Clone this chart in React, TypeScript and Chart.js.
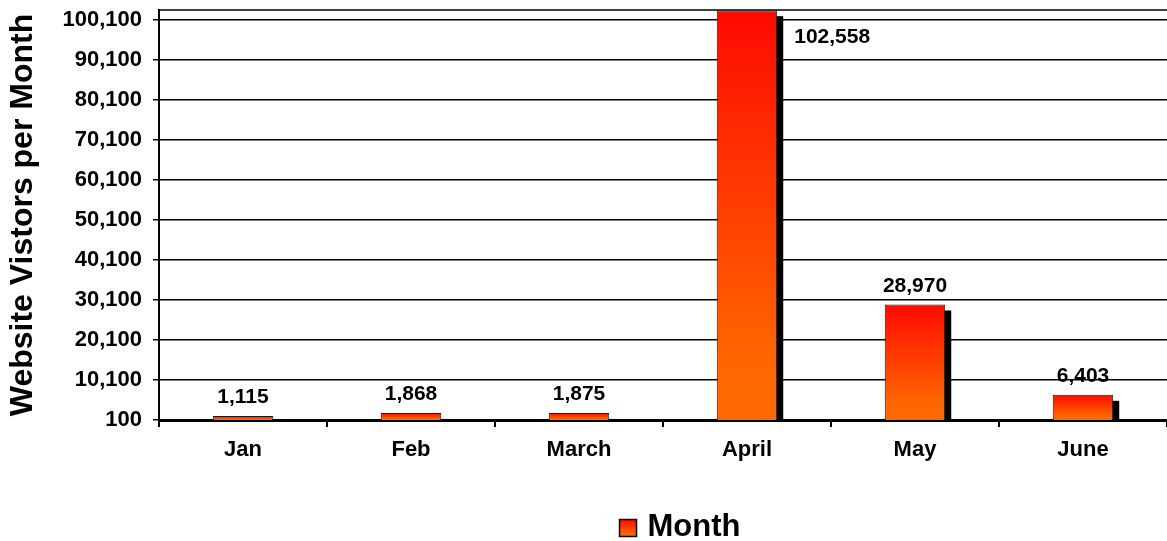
import React, { useEffect, useRef } from 'react';
import { Chart, registerables } from 'chart.js';

Chart.register(...registerables);

const MONTHS = ['Jan', 'Feb', 'March', 'April', 'May', 'June'];
const VISITORS = [1115, 1868, 1875, 102558, 28970, 6403];
const Y_TICKS = [100, 10100, 20100, 30100, 40100, 50100, 60100, 70100, 80100, 90100, 100100];
const Y_MIN = 100;
const Y_MAX = 102600;
const SERIES_LABEL = 'Month';
const Y_TITLE = 'Website Vistors per Month';

const FONT = '"Liberation Sans", Arial, Helvetica, sans-serif';
const fmt = (v: number) => Number(v).toLocaleString('en-US');

function barGradient(ctx: CanvasRenderingContext2D, top: number, bottom: number) {
  const g = ctx.createLinearGradient(0, top, 0, bottom);
  g.addColorStop(0, '#ff0a00');
  g.addColorStop(0.85, '#ff6600');
  g.addColorStop(1, '#ff6a00');
  return g;
}

const shadowPlugin = {
  id: 'barShadow',
  beforeDatasetsDraw(chart: any) {
    const { ctx, chartArea } = chart;
    ctx.save();
    ctx.strokeStyle = '#000';
    ctx.lineWidth = 1.5;
    ctx.beginPath();
    ctx.moveTo(chartArea.left, chartArea.top);
    ctx.lineTo(chartArea.right, chartArea.top);
    ctx.stroke();
    ctx.restore();

    const meta = chart.getDatasetMeta(0);
    ctx.save();
    ctx.beginPath();
    ctx.rect(chartArea.left, chartArea.top, chartArea.right - chartArea.left, chartArea.bottom - chartArea.top);
    ctx.clip();
    ctx.fillStyle = '#000';
    meta.data.forEach((bar: any) => {
      const { x, y, base, width } = bar.getProps(['x', 'y', 'base', 'width'], true);
      ctx.fillRect(x - width / 2 + 6, y + 6, width, base - y);
    });
    ctx.restore();
  },
};

const labelPlugin = {
  id: 'valueLabels',
  afterDatasetsDraw(chart: any) {
    const { ctx, chartArea } = chart;
    const meta = chart.getDatasetMeta(0);
    ctx.save();
    ctx.font = `bold 21px ${FONT}`;
    ctx.fillStyle = '#000';
    ctx.textBaseline = 'alphabetic';
    meta.data.forEach((bar: any, i: number) => {
      const { x, y, width } = bar.getProps(['x', 'y', 'width'], true);
      const text = fmt(VISITORS[i]);
      if (y - 13 - 17 < chartArea.top) {
        ctx.textAlign = 'left';
        ctx.fillText(text, x + width / 2 + 17, y + 33);
      } else {
        ctx.textAlign = 'center';
        ctx.fillText(text, x, y - 13);
      }
    });
    ctx.restore();
  },
};

const legendPlugin = {
  id: 'customLegend',
  afterDraw(chart: any) {
    const { ctx, chartArea } = chart;
    const boxSize = 17;
    const gap = 11;
    ctx.save();
    ctx.font = `bold 31px ${FONT}`;
    const tw = ctx.measureText(SERIES_LABEL).width;
    const total = boxSize + gap + tw;
    const cx = (chartArea.left + chartArea.right) / 2 + 17;
    const x0 = cx - total / 2;
    const cy = chart.height - 13;
    const by = cy - boxSize / 2;
    ctx.fillStyle = barGradient(ctx, by, by + boxSize);
    ctx.fillRect(x0, by, boxSize, boxSize);
    ctx.strokeStyle = '#000';
    ctx.lineWidth = 1.5;
    ctx.strokeRect(x0, by, boxSize, boxSize);
    ctx.fillStyle = '#000';
    ctx.textAlign = 'left';
    ctx.textBaseline = 'middle';
    ctx.fillText(SERIES_LABEL, x0 + boxSize + gap, cy - 1);
    ctx.restore();
  },
};

export default function App() {
  const canvasRef = useRef<HTMLCanvasElement | null>(null);

  useEffect(() => {
    const canvas = canvasRef.current;
    if (!canvas) return;
    const chart = new Chart(canvas, {
      type: 'bar',
      data: {
        labels: MONTHS,
        datasets: [
          {
            label: SERIES_LABEL,
            data: VISITORS,
            backgroundColor: (c: any) => {
              const ch = c.chart;
              const ys = ch.scales && ch.scales.y;
              if (!ys || c.type !== 'data') return '#ff4400';
              const top = ys.getPixelForValue(c.raw as number);
              const bottom = ys.getPixelForValue(ys.min);
              if (!isFinite(top) || !isFinite(bottom) || bottom - top < 1) return '#ff3300';
              return barGradient(ch.ctx, top, bottom);
            },
            borderColor: '#1a1a1a',
            borderWidth: 1,
            barPercentage: 0.36,
            categoryPercentage: 1,
          },
        ],
      },
      options: {
        responsive: false,
        animation: false,
        devicePixelRatio: 1,
        layout: { padding: { top: 10, right: 0, bottom: 0, left: 0 } },
        plugins: {
          legend: { display: false },
          tooltip: { enabled: false },
          title: { display: false },
        },
        scales: {
          x: {
            grid: {
              display: true,
              drawOnChartArea: false,
              drawTicks: true,
              tickLength: 7,
              color: '#000',
              lineWidth: 2,
              offset: true,
            },
            border: { display: true, color: '#000', width: 3 },
            ticks: {
              color: '#000',
              font: { family: FONT, size: 22, weight: 'bold' },
              padding: 10,
              maxRotation: 0,
              autoSkip: false,
            },
            afterFit: (scale: any) => {
              scale.height = 121;
              scale.paddingLeft = 0;
              scale.paddingRight = 0;
            },
          },
          y: {
            min: Y_MIN,
            max: Y_MAX,
            afterBuildTicks: (scale: any) => {
              scale.ticks = Y_TICKS.map((v) => ({ value: v }));
            },
            grid: {
              color: '#000',
              lineWidth: 1.5,
              tickLength: 6,
              drawTicks: true,
            },
            border: { display: true, color: '#000', width: 2 },
            ticks: {
              color: '#000',
              font: { family: FONT, size: 22, weight: 'bold' },
              padding: 11,
              autoSkip: false,
              callback: (v: any) => fmt(Number(v)),
            },
            title: {
              display: true,
              text: Y_TITLE,
              color: '#000',
              font: { family: FONT, size: 32, weight: 'bold' },
              padding: { top: 4, bottom: 0 },
            },
            afterFit: (scale: any) => {
              scale.width = 159;
              scale.paddingTop = 0;
              scale.paddingBottom = 0;
            },
          },
        },
      },
      plugins: [shadowPlugin, labelPlugin, legendPlugin],
    } as any);
    return () => chart.destroy();
  }, []);

  return (
    <div style={{ position: 'absolute', left: 0, top: 0, width: 1167, height: 541 }}>
      <canvas ref={canvasRef} width={1167} height={541} style={{ display: 'block' }} />
    </div>
  );
}
